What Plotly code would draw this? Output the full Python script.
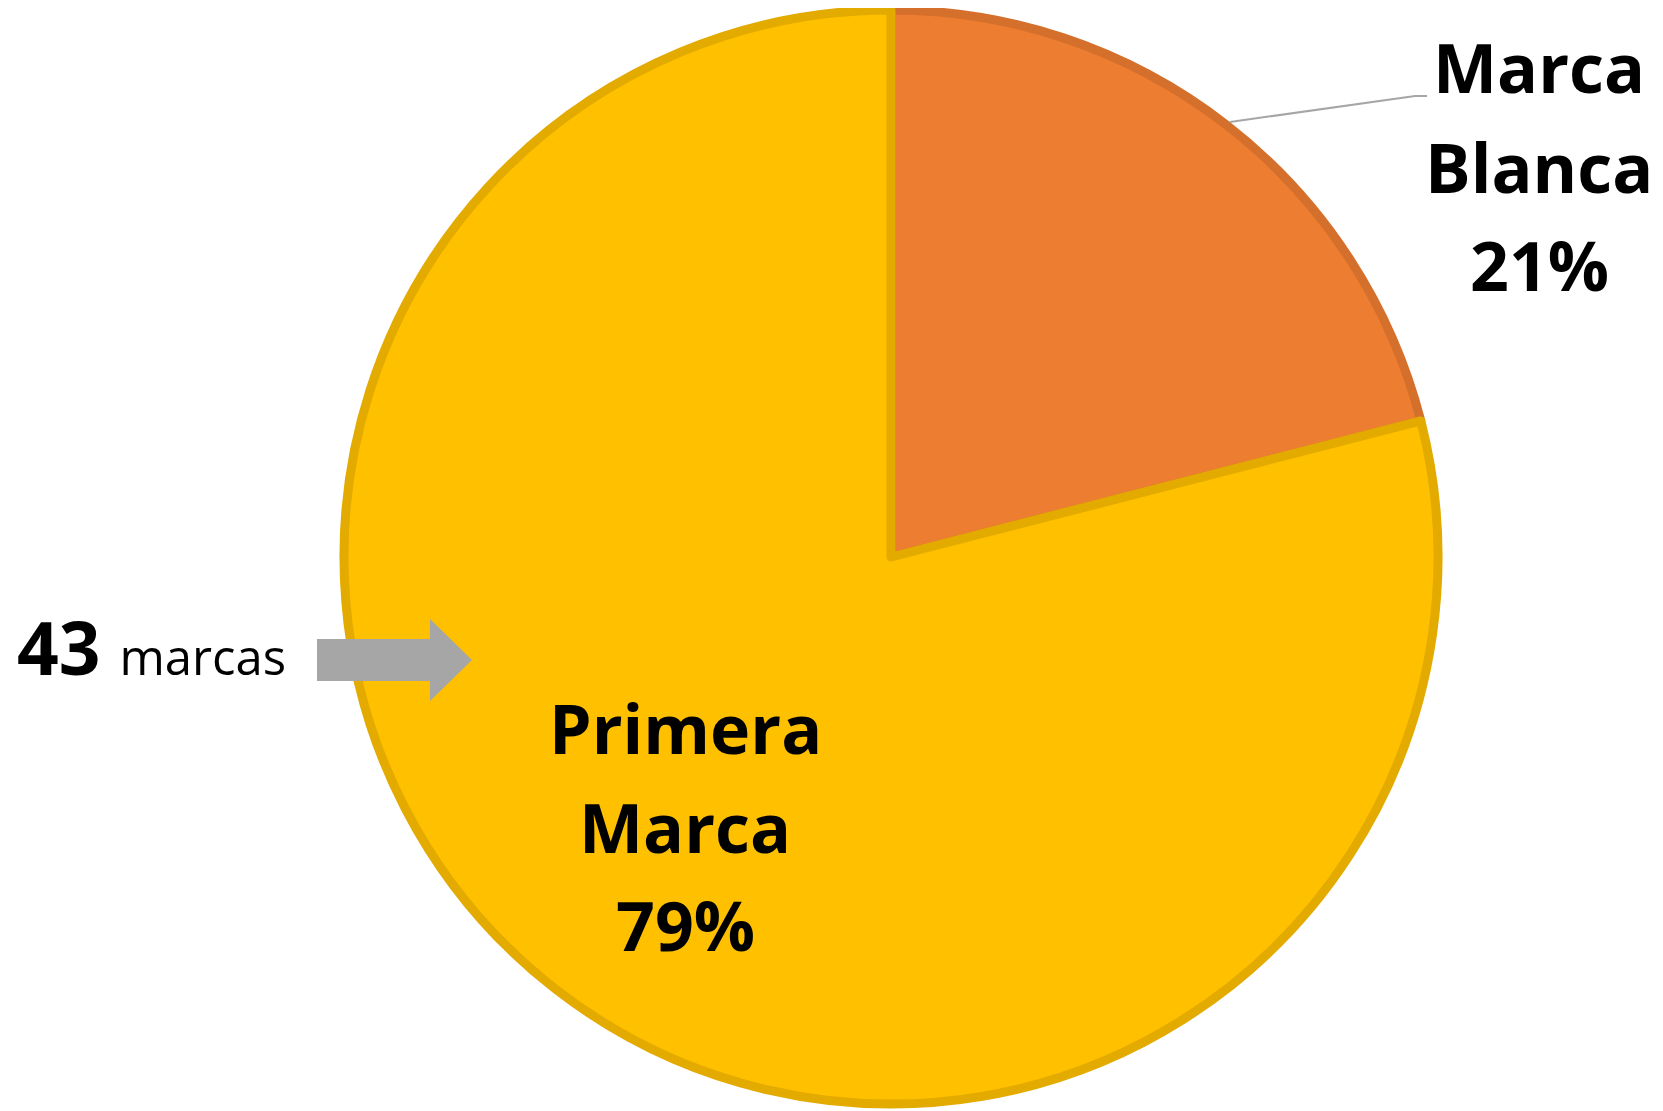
import plotly.graph_objects as go

# datos
categorias = ["Marca Blanca", "Primera Marca"]
porcentajes = [21, 79]
num_marcas = 43

colores = ["#ED7D31", "#FFC000"]
bordes = ["#D5702C", "#E3AA00"]

# la pagina deja 8px de margen: coordenadas de pagina -> figura
OFF = 8
W, H = 1663 - OFF, 1111 - OFF
cx, cy, r = 891 - OFF, 557 - OFF, 547

fig = go.Figure(go.Pie(
    labels=categorias,
    values=porcentajes,
    sort=False,
    direction="clockwise",
    rotation=0,
    textinfo="none",
    hoverinfo="label+percent",
    marker=dict(colors=colores, line=dict(color=bordes, width=9)),
    domain=dict(x=[(cx - r) / W, (cx + r) / W], y=[1 - (cy + r) / H, 1 - (cy - r) / H]),
    showlegend=False,
))

fuente = "Open Sans"
TAM = 68


def px(x):
    return (x - OFF) / W


def py(y):
    return 1 - (y - OFF) / H


def bloque(nombre, pct, xc, bases):
    lineas = nombre.split(" ") + [f"{pct}%"]
    for txt, base in zip(lineas, bases):
        fig.add_annotation(
            x=px(xc), y=py(base - 0.42 * TAM), xref="paper", yref="paper",
            text=f"<b>{txt}</b>", showarrow=False,
            xanchor="center", yanchor="middle",
            font=dict(family=fuente, size=TAM, color="#000000"),
        )


bloque(categorias[0], porcentajes[0], 1539, [95, 195, 293])
bloque(categorias[1], porcentajes[1], 685, [756, 855, 953])

fig.add_annotation(
    x=px(15), y=py(675 - 29), xref="paper", yref="paper",
    text=f"<b>{num_marcas}</b> <span style='font-size:49px'>marcas</span>",
    showarrow=False, xanchor="left", yanchor="middle",
    font=dict(family=fuente, size=73, color="#000000"),
)


def p(x, y):
    return f"{px(x)},{py(y)}"


# linea guia de la etiqueta exterior
fig.add_shape(
    type="path", xref="paper", yref="paper",
    path=f"M {p(1230, 122)} L {p(1415, 96)} L {p(1427, 96)}",
    line=dict(color="#A6A6A6", width=2),
)

# flecha gris
fig.add_shape(
    type="path", xref="paper", yref="paper",
    path=("M " + p(317, 639) + " L " + p(430, 639) + " L " + p(430, 619) +
          " L " + p(472, 660) + " L " + p(430, 701) + " L " + p(430, 681) +
          " L " + p(317, 681) + " Z"),
    fillcolor="#A6A6A6", line=dict(width=0),
)

fig.update_layout(
    width=W, height=H,
    margin=dict(l=0, r=0, t=0, b=0),
    paper_bgcolor="white",
    plot_bgcolor="white",
)

fig.write_html("out.html")
